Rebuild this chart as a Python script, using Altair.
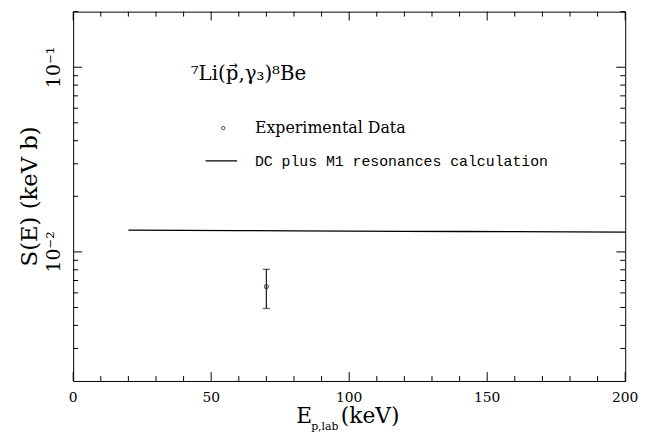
import altair as alt
import pandas as pd

# DC plus M1 resonances calculation
calc_E = [20, 40, 60, 80, 100, 120, 140, 160, 180, 200]
calc_S = [0.01312, 0.01308, 0.01304, 0.01300, 0.01297, 0.01293, 0.01290, 0.01287, 0.01283, 0.01280]

# Experimental data
exp_E = [70]
exp_S = [0.00649]
exp_lo = [0.00494]
exp_hi = [0.00805]

# axis ticks and tick labels
x_major = [0, 50, 100, 150, 200]
x_labels = ["0", "50", "100", "150", "200"]
x_minor = [10, 20, 30, 40, 60, 70, 80, 90, 110, 120, 130, 140, 160, 170, 180, 190]
y_major = [0.01, 0.1]
y_labels = ["10⁻²", "10⁻¹"]
y_minor = [0.003, 0.004, 0.005, 0.006, 0.007, 0.008, 0.009,
           0.02, 0.03, 0.04, 0.05, 0.06, 0.07, 0.08, 0.09, 0.2]

W, H = 559, 374
FONT = "DejaVu Serif"

calc_df = pd.DataFrame({"E": calc_E, "S": calc_S})
exp_df = pd.DataFrame({"E": exp_E, "S": exp_S, "lo": exp_lo, "hi": exp_hi})
one = pd.DataFrame({"k": [0]})

xs = alt.Scale(domain=[0, 200], nice=False, zero=False)
ys = alt.Scale(type="log", domain=[0.002, 0.2], nice=False)

line = alt.Chart(calc_df).mark_line(color="black", strokeWidth=1.3).encode(
    x=alt.X("E:Q", scale=xs, axis=None),
    y=alt.Y("S:Q", scale=ys, axis=None),
)


# inward tick marks on all four edges, placed by the shared scales
def xticks(vals, y0, y1):
    df = pd.DataFrame({"v": vals})
    return alt.Chart(df).mark_rule(color="black", strokeWidth=1).encode(
        x=alt.X("v:Q", scale=xs, axis=None), y=alt.value(y0), y2=alt.value(y1))


def yticks(vals, x0, x1):
    df = pd.DataFrame({"v": vals})
    return alt.Chart(df).mark_rule(color="black", strokeWidth=1).encode(
        y=alt.Y("v:Q", scale=ys, axis=None), x=alt.value(x0), x2=alt.value(x1))


ticks = [
    xticks(x_minor, H, H - 5), xticks(x_major, H, H - 9),
    xticks(x_minor, 0, 5), xticks(x_major, 0, 9),
    yticks(y_minor, 0, 5), yticks(y_major, 0, 9),
    yticks(y_minor, W, W - 5), yticks(y_major, W, W - 9),
]

# tick labels
xlab = alt.Chart(pd.DataFrame({"v": x_major, "t": x_labels})).mark_text(
    baseline="top", align="center", font=FONT, fontSize=14, color="black").encode(
    x=alt.X("v:Q", scale=xs, axis=None), y=alt.value(H + 10), text="t:N")
ylab = alt.Chart(pd.DataFrame({"v": y_major, "t": y_labels})).mark_text(
    angle=270, baseline="bottom", align="center", font=FONT, fontSize=19,
    color="black").encode(
    y=alt.Y("v:Q", scale=ys, axis=None), x=alt.value(-9), text="t:N")

# error bar, caps and data point
ebar = alt.Chart(exp_df).mark_rule(color="#222222", strokeWidth=1.3).encode(
    x=alt.X("E:Q", scale=xs, axis=None),
    y=alt.Y("lo:Q", scale=ys, axis=None),
    y2="hi:Q",
)
caps = alt.Chart(exp_df).transform_fold(["lo", "hi"], as_=["which", "val"]).mark_tick(
    orient="horizontal", size=7, thickness=1.3, color="#222222").encode(
    x=alt.X("E:Q", scale=xs, axis=None),
    y=alt.Y("val:Q", scale=ys, axis=None),
)
pts = alt.Chart(exp_df).mark_point(shape="circle", filled=False, size=16,
                                   color="#222222", strokeWidth=1.2).encode(
    x=alt.X("E:Q", scale=xs, axis=None),
    y=alt.Y("S:Q", scale=ys, axis=None),
)


# annotations
def txt(s, x, y, size, font=FONT, baseline="alphabetic", align="left", angle=0):
    return alt.Chart(one).mark_text(align=align, baseline=baseline, font=font,
                                    fontSize=size, color="black", angle=angle).encode(
        x=alt.value(x), y=alt.value(y), text=alt.value(s))


ytitle = txt("S(E)  (keV b)", -44, H / 2, 23, baseline="middle", align="center", angle=270)
title = txt("⁷Li(p,γ₃)⁸Be", 119, 69, 20)
arrow = txt("→", 162, 55, 11, font="DejaVu Sans", baseline="middle", align="center")
leg_pt = alt.Chart(one).mark_point(shape="circle", filled=False, size=12,
                                   color="black", strokeWidth=1).encode(
    x=alt.value(152), y=alt.value(118))
leg_t1 = txt("Experimental Data", 184, 118, 16, baseline="middle")
leg_ln = alt.Chart(one).mark_rule(color="black", strokeWidth=1.3).encode(
    x=alt.value(134), x2=alt.value(166), y=alt.value(151))
leg_t2 = txt("DC plus M1 resonances calculation", 184, 151, 15,
             font="Liberation Mono", baseline="middle")

xt1 = txt("E", 226, 417, 22)
xt2 = txt("p,lab", 241, 424, 11)
xt3 = txt("(keV)", 271, 417, 22)

chart = alt.layer(line, *ticks, xlab, ylab, ebar, caps, pts, ytitle, title, arrow,
                  leg_pt, leg_t1, leg_ln, leg_t2, xt1, xt2, xt3).properties(
    width=W, height=H, autosize="none",
    padding={"left": 66, "top": 1, "right": 16, "bottom": 52},
).configure_view(stroke="black", strokeWidth=1)

chart.save("out.html", embed_options={"renderer": "svg", "actions": False})
